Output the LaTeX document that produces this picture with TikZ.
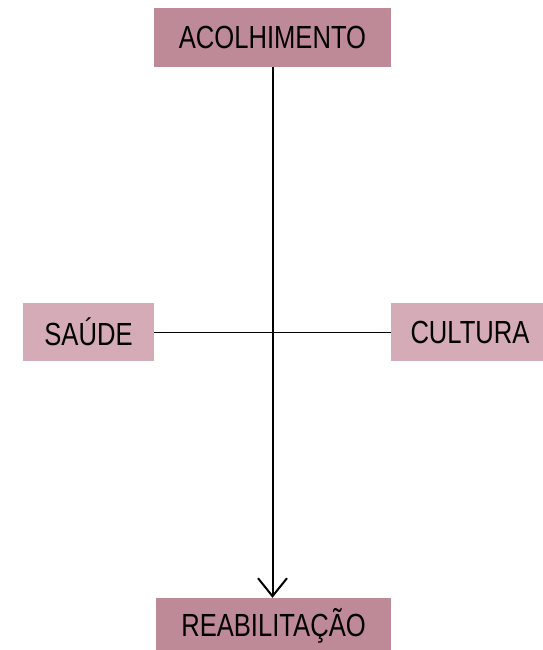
\documentclass[tikz,border=0pt]{standalone}
\usepackage{fontspec}
\setmainfont{Liberation Sans}[FakeStretch=0.8]
\usetikzlibrary{arrows.meta}
\definecolor{darkrose}{HTML}{BF8A98}
\definecolor{lightrose}{HTML}{D4ABB6}
\tikzset{
  box/.style={draw=none, inner sep=0pt, minimum width=#1, font=\fontsize{32}{32}\selectfont, text=black},
  mainbox/.style={box=237pt, fill=darkrose, minimum height=59pt},
  sidebox/.style={box=#1, fill=lightrose, minimum height=58pt},
  conn/.style={draw=black, line width=1pt},
}
\begin{document}
\begin{tikzpicture}[x=1pt,y=-1pt]
\useasboundingbox (0,0) rectangle (543,650);
\node[mainbox] (acol) at (272.5,37.5) {ACOLHIMENTO\hspace{6pt}};
\node[sidebox=131pt] (saude) at (88.5,332) {SAÚDE};
\node[sidebox=152pt] (cult) at (467,332) {\hspace{6pt}CULTURA};
\node[box=235pt, fill=darkrose, minimum height=56pt] (reab) at (273.5,626) {REABILITAÇÃO};
\draw[conn] (saude.east) -- (cult.west);
\draw[line width=2pt, -{Straight Barb[length=18pt,width=29pt,line width=2pt]}] (acol.south -| 272.5,0) -- (reab.north -| 272.5,0);
\end{tikzpicture}
\end{document}
